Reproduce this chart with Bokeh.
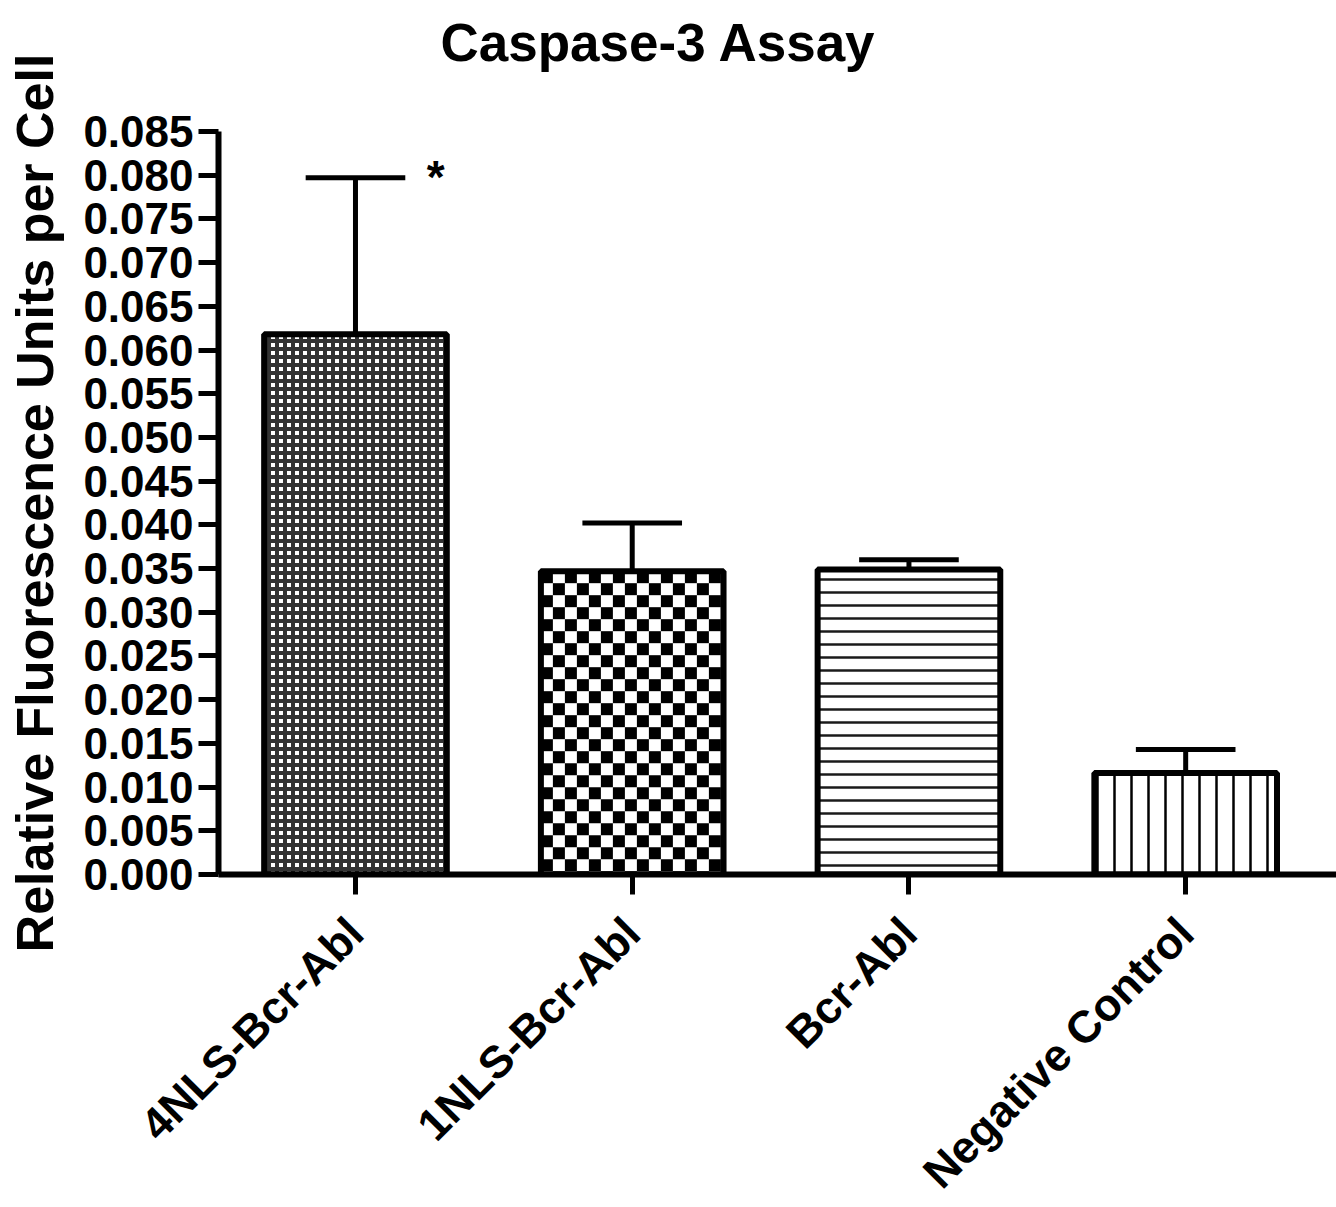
import math
from bokeh.plotting import figure
from bokeh.models import Range1d, FixedTicker, ColumnDataSource, Title
from bokeh.core.properties import value, field
from bokeh.embed import file_html
from bokeh.resources import INLINE

# ---- data ----
categories = ["4NLS-Bcr-Abl", "1NLS-Bcr-Abl", "Bcr-Abl", "Negative Control"]
means = [0.0618, 0.0347, 0.0349, 0.0116]
sems = [0.0179, 0.0055, 0.0011, 0.0027]
marks = ["*", "", "", ""]
y_ticks = [0.000, 0.005, 0.010, 0.015, 0.020, 0.025, 0.030, 0.035, 0.040,
           0.045, 0.050, 0.055, 0.060, 0.065, 0.070, 0.075, 0.080, 0.085]
y_tick_labels = ["0.000", "0.005", "0.010", "0.015", "0.020", "0.025", "0.030",
                 "0.035", "0.040", "0.045", "0.050", "0.055", "0.060", "0.065",
                 "0.070", "0.075", "0.080", "0.085"]
title_text = "Caspase-3 Assay"
y_label = "Relative Fluorescence Units per Cell"

# ---- styles ----
patterns = ["cross", " ", "horizontal_line", "vertical_line"]
h_scales = [8, 24, 13, 17]
h_weights = [4, 1, 2.5, 2.5]
h_colors = ["#333333", "black", "#1a1a1a", "black"]
checker_bars = [1]          # index of bar with the coarse checkerboard
checker_px = 12             # checker cell size in pixels

FONT = "Liberation Sans"
FRAME_W, FRAME_H = 1118, 743
X0, X1 = 0.505, 4.545
Y0, Y1 = 0.0, 0.085
BAR_W = 0.66

xs = list(range(1, len(categories) + 1))
tops = [m + s for m, s in zip(means, sems)]

p = figure(frame_width=FRAME_W, frame_height=FRAME_H,
           min_border_left=218, min_border_right=0, min_border_top=131,
           min_border_bottom=10,
           x_range=Range1d(X0, X1), y_range=Range1d(Y0, Y1),
           output_backend="svg", toolbar_location=None)
p.outline_line_color = None
p.xgrid.visible = False
p.ygrid.visible = False
p.background_fill_color = "white"
p.border_fill_color = "white"

# spacer between frame and title
p.add_layout(Title(text=" ", text_font_size="48px", standoff=0), "above")

p.title.text = title_text
p.title.text_font = FONT
p.title.text_font_size = "53px"
p.title.text_font_style = "bold"
p.title.text_color = "black"
p.title.align = "left"
p.title.offset = 222

for ax in (p.xaxis, p.yaxis):
    ax.axis_line_width = 6
    ax.axis_line_color = "black"
    ax.major_tick_line_width = 5
    ax.major_tick_line_color = "black"
    ax.major_tick_out = 20
    ax.major_tick_in = 0
    ax.minor_tick_line_color = None
    ax.major_label_text_font = FONT
    ax.major_label_text_font_style = "bold"
    ax.major_label_text_color = "black"

p.xaxis.major_label_text_font_size = "45px"
p.yaxis.major_label_text_font_size = "44px"

p.xaxis.ticker = FixedTicker(ticks=xs)
p.xaxis.major_label_overrides = {x: c for x, c in zip(xs, categories)}
p.xaxis.major_label_orientation = math.pi / 4
p.xaxis.major_label_standoff = 31

p.yaxis.ticker = FixedTicker(ticks=y_ticks)
p.yaxis.major_label_overrides = {t: l for t, l in zip(y_ticks, y_tick_labels)}
p.yaxis.major_label_standoff = 5
p.yaxis.axis_label = y_label
p.yaxis.axis_label_text_font = FONT
p.yaxis.axis_label_text_font_size = "52px"
p.yaxis.axis_label_text_font_style = "bold"
p.yaxis.axis_label_text_color = "black"
p.yaxis.axis_label_standoff = 16

# bar fills with hatches
src = ColumnDataSource(dict(x=xs, top=means, pattern=patterns,
                            hscale=h_scales, hweight=h_weights, hcolor=h_colors))
p.vbar(x="x", top="top", bottom=0, width=BAR_W, source=src,
       fill_color="white", line_color=None,
       hatch_pattern=field("pattern"), hatch_scale=field("hscale"),
       hatch_weight=field("hweight"), hatch_color=field("hcolor"))

# coarse checkerboard cells, clipped to the bar
dx = checker_px * (X1 - X0) / FRAME_W
dy = checker_px * (Y1 - Y0) / FRAME_H
ql, qr, qb, qt = [], [], [], []
for i in checker_bars:
    left, right, top = xs[i] - BAR_W / 2, xs[i] + BAR_W / 2, means[i]
    nx = int(math.ceil((right - left) / dx))
    ny = int(math.ceil(top / dy))
    for r in range(ny):
        for c in range(nx):
            if (r + c) % 2 == 0:
                l = left + c * dx
                rr = min(l + dx, right)
                t = top - r * dy
                b = max(t - dy, 0)
                ql.append(l); qr.append(rr); qt.append(t); qb.append(b)
p.quad(left=ql, right=qr, top=qt, bottom=qb, fill_color="black", line_color=None)

# bar outlines
p.vbar(x="x", top="top", bottom=0, width=BAR_W, source=src,
       fill_color=None, line_color="black", line_width=6)

cap_half = 0.18
p.segment(x0=xs, y0=means, x1=xs, y1=tops, line_width=5, line_color="black")
p.segment(x0=[x - cap_half for x in xs], y0=tops,
          x1=[x + cap_half for x in xs], y1=tops,
          line_width=5, line_color="black")

mx = [x + 0.29 for x, m in zip(xs, marks) if m]
my = [t for t, m in zip(tops, marks) if m]
mt = [m for m in marks if m]
p.text(x=mx, y=my, text=mt, text_font=value(FONT), text_font_size="46px",
       text_font_style="bold", text_align="center", text_baseline="alphabetic",
       y_offset=-1, text_color="black")

with open("out.html", "w", encoding="utf-8") as f:
    f.write(file_html(p, INLINE))
